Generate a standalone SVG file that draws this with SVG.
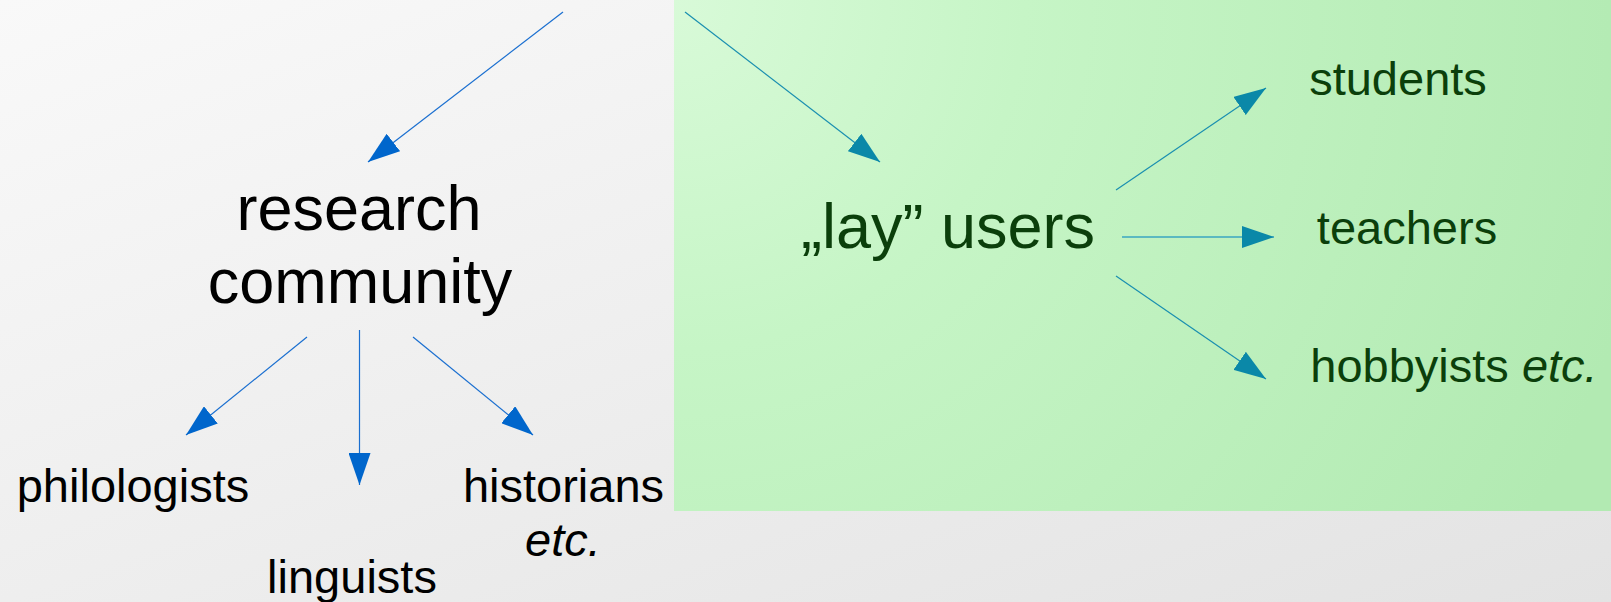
<svg xmlns="http://www.w3.org/2000/svg" width="1611" height="602" viewBox="0 0 1611 602">
  <style>
    .lbl { font-family: "Liberation Sans", Arial, sans-serif; text-anchor: middle; }
    .big { font-size: 63px; }
    .small { font-size: 47px; }
    .blk { fill: #000000; }
    .grn { fill: #0b3f0b; }
    .it { font-style: italic; }
    .cb { stroke: #1a6fd0; stroke-width: 1.2; fill: none; }
    .ct { stroke: #1a8fb0; stroke-width: 1.2; fill: none; }
    .cbt { stroke: #3aa6c0; stroke-width: 1.6; fill: none; }
  </style>
  <defs>
    <linearGradient id="bg" x1="0" y1="0" x2="1" y2="1">
      <stop offset="0" stop-color="#f9f9f9"/>
      <stop offset="1" stop-color="#e3e3e3"/>
    </linearGradient>
    <radialGradient id="gp" cx="674" cy="0" r="1000" gradientUnits="userSpaceOnUse">
      <stop offset="0" stop-color="#d8fad8"/>
      <stop offset="0.35" stop-color="#c6f5c6"/>
      <stop offset="1" stop-color="#b2eab2"/>
    </radialGradient>
    <marker id="ab" viewBox="0 0 32 22" refX="32" refY="11" markerWidth="32" markerHeight="22" markerUnits="userSpaceOnUse" orient="auto">
      <path d="M0,0 L32,11 L0,22 Z" fill="#0066cc"/>
    </marker>
    <marker id="at" viewBox="0 0 32 22" refX="32" refY="11" markerWidth="32" markerHeight="22" markerUnits="userSpaceOnUse" orient="auto">
      <path d="M0,0 L32,11 L0,22 Z" fill="#0a88a8"/>
    </marker>
  </defs>
  <rect x="0" y="0" width="1611" height="602" fill="url(#bg)"/>
  <rect id="lay-panel" x="674" y="0" width="937" height="511" fill="url(#gp)"/>

  <g id="connectors">
    <line class="cb" x1="563" y1="12" x2="368" y2="162" marker-end="url(#ab)"/>
    <line class="ct" x1="685" y1="12" x2="880" y2="162" marker-end="url(#at)"/>
    <line class="ct" x1="1116" y1="190" x2="1266" y2="88" marker-end="url(#at)"/>
    <line class="cbt" x1="1122" y1="237" x2="1274" y2="237" marker-end="url(#at)"/>
    <line class="ct" x1="1116" y1="276" x2="1266" y2="379" marker-end="url(#at)"/>
    <line class="cb" x1="307" y1="337" x2="186" y2="435" marker-end="url(#ab)"/>
    <line class="cb" x1="359.5" y1="330" x2="359.5" y2="485" marker-end="url(#ab)"/>
    <line class="cb" x1="413" y1="337" x2="533" y2="435" marker-end="url(#ab)"/>
  </g>

  <g id="research-community">
    <text class="lbl big blk" x="359" y="230">research</text>
    <text class="lbl big blk" x="360" y="303">community</text>
  </g>
  <g id="lay-users">
    <text class="lbl big grn" x="948" y="248">„lay” users</text>
  </g>
  <g id="students">
    <text class="lbl small grn" x="1398" y="95">students</text>
  </g>
  <g id="teachers">
    <text class="lbl small grn" x="1407" y="244">teachers</text>
  </g>
  <g id="hobbyists">
    <text class="lbl small grn" x="1454" y="382">hobbyists <tspan class="it">etc.</tspan></text>
  </g>
  <g id="philologists">
    <text class="lbl small blk" x="133" y="502">philologists</text>
  </g>
  <g id="linguists">
    <text class="lbl small blk" x="352" y="593">linguists</text>
  </g>
  <g id="historians">
    <text class="lbl small blk" x="563.5" y="502">historians</text>
    <text class="lbl small blk it" x="563" y="556">etc.</text>
  </g>
</svg>
